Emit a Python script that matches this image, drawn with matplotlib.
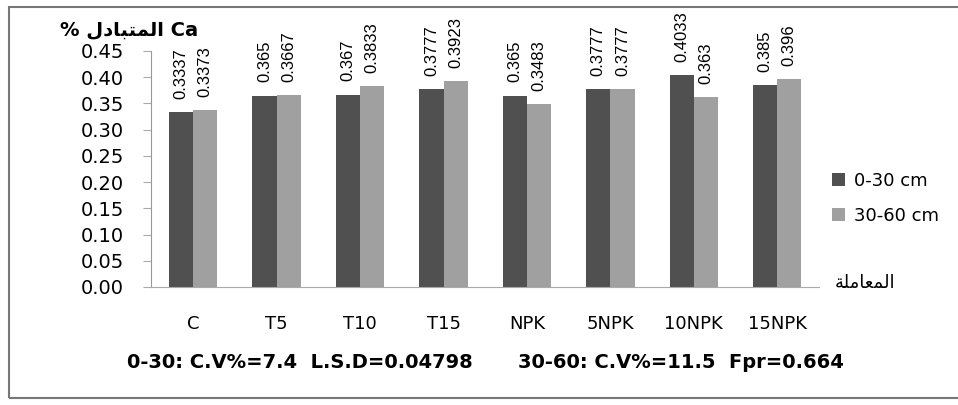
import numpy as np
import matplotlib
matplotlib.use('Agg')
import matplotlib.pyplot as plt
from matplotlib.patches import Rectangle

# data
treatments = ['C', 'T5', 'T10', 'T15', 'NPK', '5NPK', '10NPK', '15NPK']
depth_0_30 = [0.3337, 0.365, 0.367, 0.3777, 0.365, 0.3777, 0.4033, 0.385]
depth_30_60 = [0.3373, 0.3667, 0.3833, 0.3923, 0.3483, 0.3777, 0.363, 0.396]
label_0_30 = ['0.3337', '0.365', '0.367', '0.3777', '0.365', '0.3777', '0.4033', '0.385']
label_30_60 = ['0.3373', '0.3667', '0.3833', '0.3923', '0.3483', '0.3777', '0.363', '0.396']
yticks = [0.00, 0.05, 0.10, 0.15, 0.20, 0.25, 0.30, 0.35, 0.40, 0.45]
series_names = ['0-30 cm', '30-60 cm']

plt.rcParams['font.family'] = ['DejaVu Sans']

fig = plt.figure(figsize=(9.58, 4.05), dpi=100)
ax = fig.add_axes([0.1581, 0.2914, 0.6968, 0.5827])

x = np.arange(len(treatments))
w = 0.29
dark = '#505050'
light = '#a0a0a0'
ax.bar(x - w / 2, depth_0_30, w, color=dark, label=series_names[0])
ax.bar(x + w / 2, depth_30_60, w, color=light, label=series_names[1])

# value labels, vertical
for xi, v, s in zip(x, depth_0_30, label_0_30):
    ax.text(xi - w / 2, v + 0.025, s, rotation=90, ha='center', va='bottom',
            fontsize=12, family=['Liberation Sans'], clip_on=False)
for xi, v, s in zip(x, depth_30_60, label_30_60):
    ax.text(xi + w / 2, v + 0.025, s, rotation=90, ha='center', va='bottom',
            fontsize=12, family=['Liberation Sans'], clip_on=False)

ax.set_xlim(-0.5, len(treatments) - 0.5)
ax.set_ylim(0, 0.45)
ax.set_yticks(yticks)
ax.set_yticklabels(['%.2f' % t for t in yticks], fontsize=14)
ax.set_xticks(x)
ax.set_xticklabels(treatments, fontsize=13)
ax.tick_params(axis='x', length=0, pad=20)
ax.tick_params(axis='y', length=6, color='#aaaaaa', pad=14)

for side in ['top', 'right']:
    ax.spines[side].set_visible(False)
ax.spines['left'].set_color('#999999')
ax.spines['bottom'].set_color('#aaaaaa')

# y label:  % المتبادل Ca  (presentation forms in visual order)
mutabadal = '\ufedd\ufea9\ufe8e\ufe92\ufe98\ufee4\ufedf\ufe8d'
fig.text(0.063, 0.926, '% ' + mutabadal + ' Ca', fontsize=14, fontweight='bold',
         family=['DejaVu Sans'], ha='left', va='center')

# x label: المعاملة
muamala = '\ufe94\ufee0\ufee3\ufe8e\ufecc\ufee4\ufedf\ufe8d'
fig.text(0.871, 0.30, muamala, fontsize=13, family=['DejaVu Sans'],
         ha='left', va='center')

ax.legend(loc='center left', bbox_to_anchor=(0.995, 0.375), frameon=False,
          fontsize=13, handlelength=0.7, handleheight=0.7,
          handletextpad=0.5, labelspacing=0.95)

fig.text(0.313, 0.106, '0-30: C.V%=7.4  L.S.D=0.04798', fontsize=14,
         fontweight='bold', ha='center', va='center')
fig.text(0.711, 0.106, '30-60: C.V%=11.5  Fpr=0.664', fontsize=14,
         fontweight='bold', ha='center', va='center')

# outer frame
fig.patches.append(Rectangle((0.009, 0.018), 1.0, 0.965, transform=fig.transFigure,
                             fill=False, edgecolor='#777777', linewidth=1.5))

fig.savefig('out.png', dpi=100)
